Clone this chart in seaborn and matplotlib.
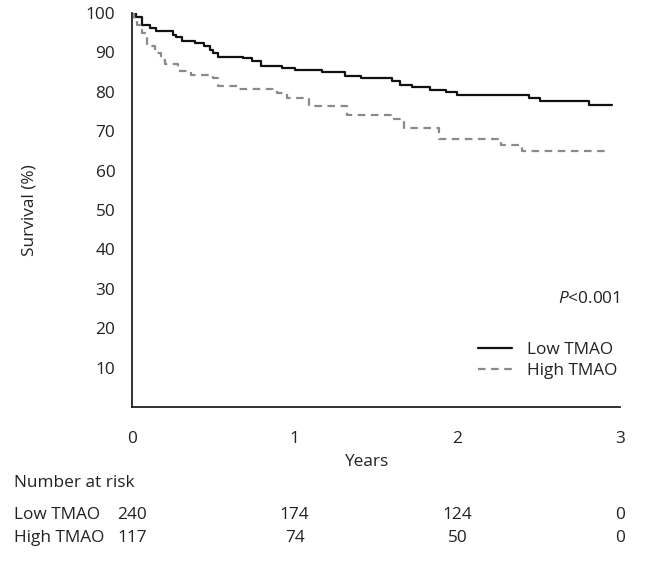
import numpy as np
import pandas as pd
import matplotlib
matplotlib.use("Agg")
import matplotlib.pyplot as plt
from matplotlib.lines import Line2D
import seaborn as sns

# ---- data ----
low_t = [0, 0.025, 0.06, 0.11, 0.15, 0.25, 0.27, 0.31, 0.39, 0.44, 0.48, 0.50, 0.53, 0.68,
         0.74, 0.79, 0.92, 1.0, 1.17, 1.31, 1.41, 1.60, 1.65, 1.72, 1.83, 1.93, 2.0, 2.44,
         2.51, 2.81, 2.95]
low_s = [100, 99, 97, 96.3, 95.5, 94.5, 93.8, 92.9, 92.3, 91.5, 90.6, 89.8, 88.9, 88.5,
         87.7, 86.6, 86.0, 85.5, 85.1, 84.0, 83.4, 82.8, 81.7, 81.1, 80.5, 79.9, 79.3, 78.5,
         77.7, 76.7, 76.7]
high_t = [0, 0.01, 0.03, 0.06, 0.09, 0.14, 0.18, 0.20, 0.28, 0.36, 0.50, 0.53, 0.66, 0.89,
          0.95, 1.09, 1.32, 1.59, 1.67, 1.89, 2.27, 2.40, 2.94]
high_s = [100, 98, 97, 94.9, 91.5, 89.8, 88.1, 87.1, 85.3, 84.3, 83.4, 81.5, 80.7, 79.6,
          78.5, 76.4, 74.1, 73.0, 70.8, 68.0, 66.5, 65.1, 65.1]
groups = ["Low TMAO", "High TMAO"]
risk_times = [0, 1, 2, 3]
risk_low = [240, 174, 124, 0]
risk_high = [117, 74, 50, 0]
x_ticks = [0, 1, 2, 3]
y_ticks = [10, 20, 30, 40, 50, 60, 70, 80, 90, 100]

df = pd.DataFrame({
    "Years": low_t + high_t,
    "Survival": low_s + high_s,
    "Group": [groups[0]] * len(low_t) + [groups[1]] * len(high_t),
})

sns.set_style("white")
FONT = "Open Sans"
plt.rcParams["font.family"] = [FONT, "DejaVu Sans"]
plt.rcParams["mathtext.fontset"] = "custom"
plt.rcParams["mathtext.it"] = FONT + ":italic"
plt.rcParams["mathtext.rm"] = FONT
FS = 12.4
TC = "#222222"

fig = plt.figure(figsize=(6.5, 5.61), dpi=100)
ax = fig.add_axes([132 / 650, 1 - 407 / 561, (620 - 132) / 650, (407 - 13) / 561])

DASH = (3.4, 2.5)
sns.lineplot(data=df, x="Years", y="Survival", hue="Group", style="Group",
             palette={groups[0]: "#111111", groups[1]: "#8a8a8a"},
             dashes={groups[0]: "", groups[1]: DASH},
             drawstyle="steps-post", linewidth=1.6, ax=ax, legend=False, estimator=None)

ax.set_xlim(0, 3)
ax.set_ylim(0, 100)
ax.set_xticks(x_ticks)
ax.set_xticklabels([str(v) for v in x_ticks])
ax.set_yticks(y_ticks)
ax.set_yticklabels([str(v) for v in y_ticks])
for s in ["top", "right"]:
    ax.spines[s].set_visible(False)
for s in ["left", "bottom"]:
    ax.spines[s].set_color(TC)
    ax.spines[s].set_linewidth(1.3)
ax.tick_params(axis="both", direction="out", length=6, width=1.3, color=TC,
               labelsize=FS, labelcolor=TC)
ax.tick_params(axis="x", pad=11)
ax.tick_params(axis="y", pad=6)
ax.set_xlabel("Years", fontsize=FS, color=TC)
ax.set_ylabel("Survival (%)", fontsize=FS, color=TC)
ax.xaxis.set_label_coords((367 - 132) / 488, (407 - 462) / 394)
ax.yaxis.set_label_coords((30 - 132) / 488, (407 - 210) / 394)
ax.xaxis.label.set_va("center")
ax.yaxis.label.set_va("center")

handles = [Line2D([], [], color="#111111", lw=1.6),
           Line2D([], [], color="#8a8a8a", lw=1.6, dashes=DASH)]
ax.legend(handles, groups, loc="upper left", bbox_to_anchor=((462 - 132) / 488, (407 - 326) / 394),
          frameon=False, fontsize=FS, handlelength=2.0, handletextpad=0.85, labelspacing=0.32,
          labelcolor=TC)

ax.text(1.0, (407 - 299) / 394, "$P$<0.001", transform=ax.transAxes, ha="right", va="center",
        fontsize=FS, color=TC)

# number at risk table
fig.text(14 / 650, 1 - 483 / 561, "Number at risk", fontsize=FS, color=TC, va="center")
trans = matplotlib.transforms.blended_transform_factory(ax.transData, fig.transFigure)
for label, vals, ypx in [(groups[0], risk_low, 515), (groups[1], risk_high, 538)]:
    fig.text(14 / 650, 1 - ypx / 561, label, fontsize=FS, color=TC, va="center")
    for t, v in zip(risk_times, vals):
        ax.text(t, 1 - ypx / 561, str(v), transform=trans, ha="center", va="center",
                fontsize=FS, color=TC)

fig.savefig("out.png", dpi=100, facecolor="white")
